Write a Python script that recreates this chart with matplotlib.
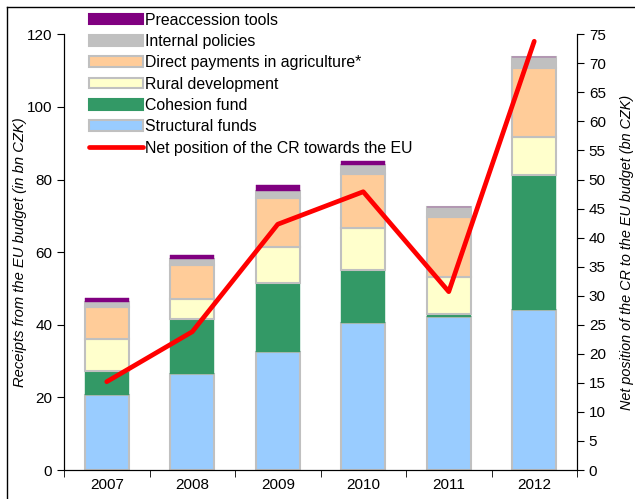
import matplotlib.pyplot as plt
from matplotlib.lines import Line2D
import numpy as np

plt.rcParams['font.family'] = ['Liberation Sans', 'DejaVu Sans']

years = ['2007', '2008', '2009', '2010', '2011', '2012']
structural = [20.7, 26.5, 32.4, 40.4, 42.1, 44.0]
cohesion = [6.5, 15.0, 19.0, 14.7, 1.0, 37.2]
rural = [8.8, 5.5, 10.1, 11.5, 10.0, 10.4]
direct = [8.9, 9.4, 13.3, 14.9, 16.5, 19.0]
internal = [1.4, 1.8, 2.1, 2.5, 2.8, 3.2]
preaccession = [1.2, 1.1, 1.5, 1.2, 0.0, 0.0]
net_position = [15.2, 23.8, 42.3, 47.9, 30.7, 73.8]

series = [
    ('Structural funds', structural, '#99CCFF', '#C0C0C0'),
    ('Cohesion fund', cohesion, '#339966', '#339966'),
    ('Rural development', rural, '#FFFFCC', '#C0C0C0'),
    ('Direct payments in agriculture*', direct, '#FFCC99', '#C0C0C0'),
    ('Internal policies', internal, '#C0C0C0', '#C0C0C0'),
    ('Preaccession tools', preaccession, '#800080', '#800080'),
]

fig = plt.figure(figsize=(6.35, 4.99), dpi=100)
ax = fig.add_axes([64 / 635, 1 - 470 / 499, (577 - 64) / 635, (470 - 34.3) / 499])
x = np.arange(len(years))
bottom = np.zeros(len(years))
handles = []
for name, vals, color, edge in series:
    ax.bar(x, vals, 0.52, bottom=bottom, color=color, edgecolor=edge,
           linewidth=1.5 if edge == '#C0C0C0' else 0.3)
    bottom += np.array(vals)
    handles.append(plt.Rectangle((0, 0), 1, 1, facecolor=color, edgecolor=edge, linewidth=1.5))

ax.set_xlim(-0.5, 5.5)
ax.set_ylim(0, 120)
ax.set_yticks(range(0, 121, 20))
ax.set_xticks(x)
ax.set_xticklabels(years)
ax.set_xticks(np.arange(-0.5, 6, 1), minor=True)
ax.tick_params(axis='x', which='major', length=0, pad=6, labelsize=11)
ax.tick_params(axis='x', which='minor', length=5, direction='out')
ax.tick_params(axis='y', length=5, direction='out', labelsize=11)
ax.spines['top'].set_visible(False)
ax.set_ylabel('Receipts from the EU budget (in bn CZK)', style='italic', fontsize=10.6, labelpad=0)

ax2 = ax.twinx()
ax2.plot(x, net_position, color='#FF0000', linewidth=3.4, solid_capstyle='round')
ax2.set_ylim(0, 75)
ax2.set_yticks(range(0, 76, 5))
ax2.tick_params(axis='y', length=5, direction='out', labelsize=11)
ax2.spines['top'].set_visible(False)
ax2.set_ylabel('Net position of the CR to the EU budget (bn CZK)', style='italic', fontsize=10.4, labelpad=10)

leg_handles = handles[::-1] + [Line2D([0], [0], color='#FF0000', linewidth=3.4, solid_capstyle='round')]
leg_labels = [s[0] for s in series][::-1] + ['Net position of the CR towards the EU']
fig.legend(leg_handles, leg_labels, loc='upper left', bbox_to_anchor=(76 / 635, 1 - 0 / 499),
           frameon=False, fontsize=11.4, handlelength=3.4, handleheight=0.65, handletextpad=0.15,
           labelspacing=0.4, borderpad=0.3)

# chart area border (top and left visible)
fig.add_artist(Line2D([7 / 635, 1], [1 - 7 / 499, 1 - 7 / 499], color='black', linewidth=1))
fig.add_artist(Line2D([7 / 635, 7 / 635], [0, 1 - 7 / 499], color='black', linewidth=1))

fig.savefig('out.png', dpi=100)
